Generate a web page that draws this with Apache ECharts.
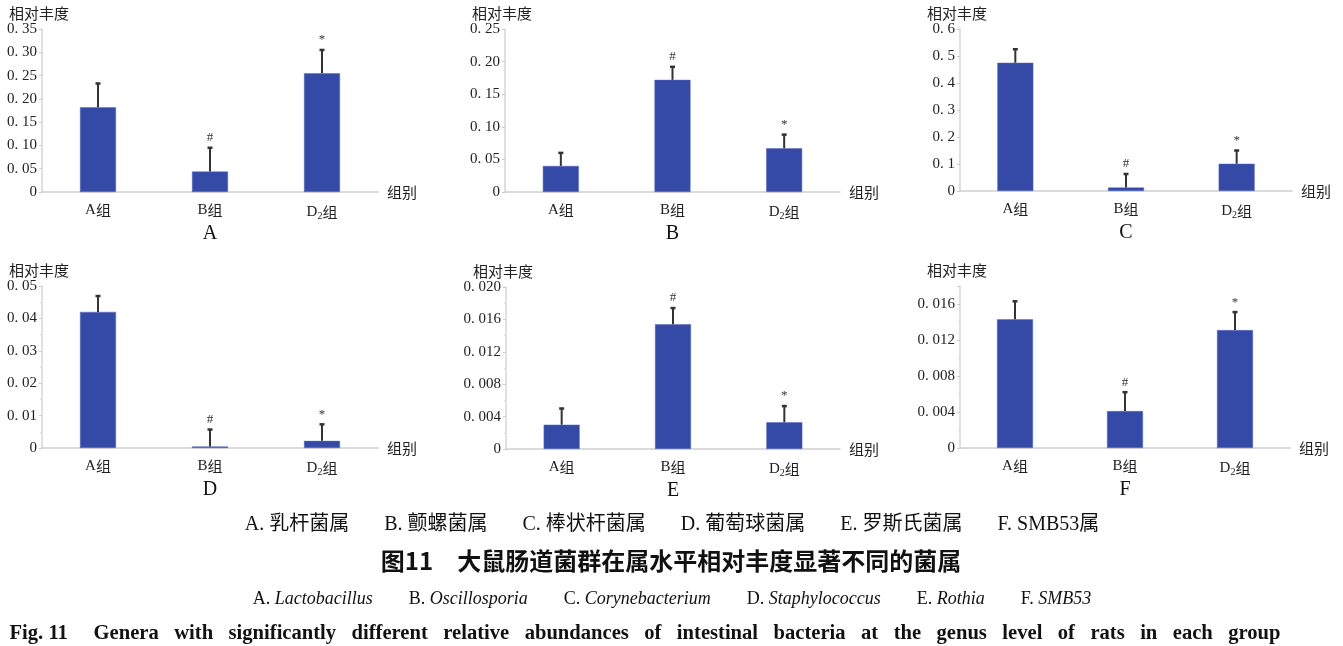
<!DOCTYPE html>
<html>
<head>
<meta charset="utf-8">
<script src="https://cdn.jsdelivr.net/npm/echarts@6/dist/echarts.min.js"></script>
<style>
  html, body { margin: 0; padding: 0; background: #fff; }
  #main { width: 1343px; height: 646px; }
</style>
</head>
<body>
<div id="main"></div>
<script>
// groups on the x axis
var categories = ['A组', 'B组', 'D2组'];
var panelNames = ['A', 'B', 'C', 'D', 'E', 'F'];
var marks = ['', '#', '*'];

// mean relative abundance and SD (error bar goes up only)
var meanA = [0.182, 0.044, 0.255];
var sdA = [0.051, 0.051, 0.050];
var meanB = [0.040, 0.172, 0.067];
var sdB = [0.020, 0.020, 0.021];
var meanC = [0.475, 0.013, 0.101];
var sdC = [0.050, 0.050, 0.049];
var meanD = [0.0420, 0.0005, 0.0022];
var sdD = [0.0049, 0.0052, 0.0051];
var meanE = [0.0030, 0.0154, 0.0033];
var sdE = [0.0020, 0.0020, 0.0020];
var meanF = [0.0143, 0.0041, 0.0131];
var sdF = [0.0020, 0.0021, 0.0020];

// y axis max / step / decimals per panel
var yMax = [0.35, 0.25, 0.6, 0.05, 0.020, 0.018];
var yStep = [0.05, 0.05, 0.1, 0.01, 0.004, 0.004];
var yDigits = [2, 2, 1, 2, 3, 3];

var means = [meanA, meanB, meanC, meanD, meanE, meanF];
var sds = [sdA, sdB, sdC, sdD, sdE, sdF];

// grid boxes (left, top, width, height)
var boxes = [
  [42, 29, 336, 163],
  [505, 29, 335, 163],
  [960, 29, 332, 162],
  [42, 286, 336, 162],
  [506, 287, 334, 162],
  [960, 286, 330, 162]
];

var serif = '"Liberation Serif", "Times New Roman", "Noto Sans CJK SC", serif';
var cjk = '"Noto Sans CJK SC", sans-serif';
var barColor = '#3549a6';
var errColor = '#333333';

function fmtTick(digits) {
  return function (v) {
    if (v === 0) return '0';
    return v.toFixed(digits).replace('.', '. ');
  };
}

function fmtCat(v) {
  if (v.indexOf('D2') === 0) {
    return '{n|D}{s|2}{c|' + v.slice(2) + '}';
  }
  return '{n|' + v.charAt(0) + '}{c|' + v.slice(1) + '}';
}

function makeErr(i) {
  return function (params, api) {
    var x = api.value(0), m = api.value(1), sd = api.value(2);
    var p0 = api.coord([x, m]);
    var p1 = api.coord([x, m + sd]);
    return {
      type: 'group',
      children: [
        { type: 'line', shape: { x1: p0[0], y1: p0[1], x2: p1[0], y2: p1[1] },
          style: { stroke: errColor, lineWidth: 2 } },
        { type: 'line', shape: { x1: p1[0] - 2.5, y1: p1[1], x2: p1[0] + 2.5, y2: p1[1] },
          style: { stroke: errColor, lineWidth: 2.5 } },
        { type: 'text', style: { text: marks[params.dataIndex], x: p1[0], y: p1[1] - 10,
          align: 'center', verticalAlign: 'middle', fontSize: 13, fontFamily: serif, fill: '#333' } }
      ]
    };
  };
}

var grids = [], xAxes = [], yAxes = [], series = [], graphics = [];

for (var i = 0; i < 6; i++) {
  var b = boxes[i];
  grids.push({ left: b[0], top: b[1], width: b[2], height: b[3], containLabel: false });
  xAxes.push({
    type: 'category', gridIndex: i, data: categories,
    name: '组别', nameLocation: 'end', nameGap: 9,
    nameTextStyle: { fontFamily: cjk, fontSize: 15, color: '#222' },
    axisLine: { lineStyle: { color: '#cfcfcf', width: 1.5 } },
    axisTick: { show: false },
    axisLabel: {
      margin: 11, formatter: fmtCat,
      rich: {
        n: { fontFamily: serif, fontSize: 15, color: '#222' },
        c: { fontFamily: cjk, fontSize: 15, color: '#222' },
        s: { fontFamily: serif, fontSize: 10, color: '#222', padding: [8, 0, 0, 0] }
      }
    }
  });
  yAxes.push({
    type: 'value', gridIndex: i, min: 0, max: yMax[i], interval: yStep[i],
    name: '相对丰度', nameLocation: 'end', nameGap: 8,
    nameTextStyle: { fontFamily: cjk, fontSize: 15, color: '#222', align: 'center', padding: [0, 6, 0, 0] },
    axisLine: { show: true, lineStyle: { color: '#d6d6d6', width: 1.5 } },
    axisTick: { show: true, length: 3, lineStyle: { color: '#cccccc' } },
    minorTick: { show: i >= 3, splitNumber: 2, length: 2, lineStyle: { color: '#dddddd' } },
    splitLine: { show: false },
    axisLabel: {
      margin: 5, formatter: fmtTick(yDigits[i]), showMaxLabel: i !== 5,
      fontFamily: serif, fontSize: 15, color: '#222'
    }
  });
  series.push({
    type: 'bar', xAxisIndex: i, yAxisIndex: i, data: means[i],
    barWidth: 36, itemStyle: { color: barColor, borderColor: '#5a6cc0', borderWidth: 0.5 },
    silent: true
  });
  var errData = [];
  for (var k = 0; k < 3; k++) errData.push([k, means[i][k], sds[i][k]]);
  series.push({
    type: 'custom', xAxisIndex: i, yAxisIndex: i, data: errData,
    renderItem: makeErr(i), z: 5, silent: true
  });
  // panel letter under each chart
  graphics.push({
    type: 'text', x: b[0] + b[2] / 2, y: b[1] + b[3] + 42,
    style: { text: panelNames[i], align: 'center', verticalAlign: 'middle',
      fontFamily: serif, fontSize: 20, fill: '#111' }
  });
}

// figure captions
graphics.push({
  type: 'text', x: 672, y: 525,
  style: { text: 'A. 乳杆菌属       B. 颤螺菌属       C. 棒状杆菌属       D. 葡萄球菌属       E. 罗斯氏菌属       F. SMB53属',
    align: 'center', verticalAlign: 'middle', fontFamily: serif, fontSize: 20, fill: '#111' }
});
graphics.push({
  type: 'text', x: 671, y: 561,
  style: { text: '图11　大鼠肠道菌群在属水平相对丰度显著不同的菌属',
    align: 'center', verticalAlign: 'middle', fontFamily: cjk, fontWeight: 'bold', fontSize: 24, fill: '#111' }
});
graphics.push({
  type: 'text', x: 672, y: 599,
  style: { text: 'A. {i|Lactobacillus}        B. {i|Oscillosporia}        C. {i|Corynebacterium}        D. {i|Staphylococcus}        E. {i|Rothia}        F. {i|SMB53}',
    align: 'center', verticalAlign: 'middle', fontFamily: serif, fontSize: 18, fill: '#111',
    rich: { i: { fontFamily: serif, fontStyle: 'italic', fontSize: 18, fill: '#111' } } }
});
graphics.push({
  type: 'text', x: 645, y: 634,
  style: { text: 'Fig. 11     Genera   with   significantly   different   relative   abundances   of   intestinal   bacteria   at   the   genus   level   of   rats   in   each   group',
    align: 'center', verticalAlign: 'middle', fontFamily: serif, fontWeight: 'bold', fontSize: 20.6, fill: '#111' }
});

var chart = echarts.init(document.getElementById('main'));
chart.setOption({
  backgroundColor: '#ffffff',
  animation: false,
  grid: grids,
  xAxis: xAxes,
  yAxis: yAxes,
  series: series,
  graphic: graphics
});
</script>
</body>
</html>
